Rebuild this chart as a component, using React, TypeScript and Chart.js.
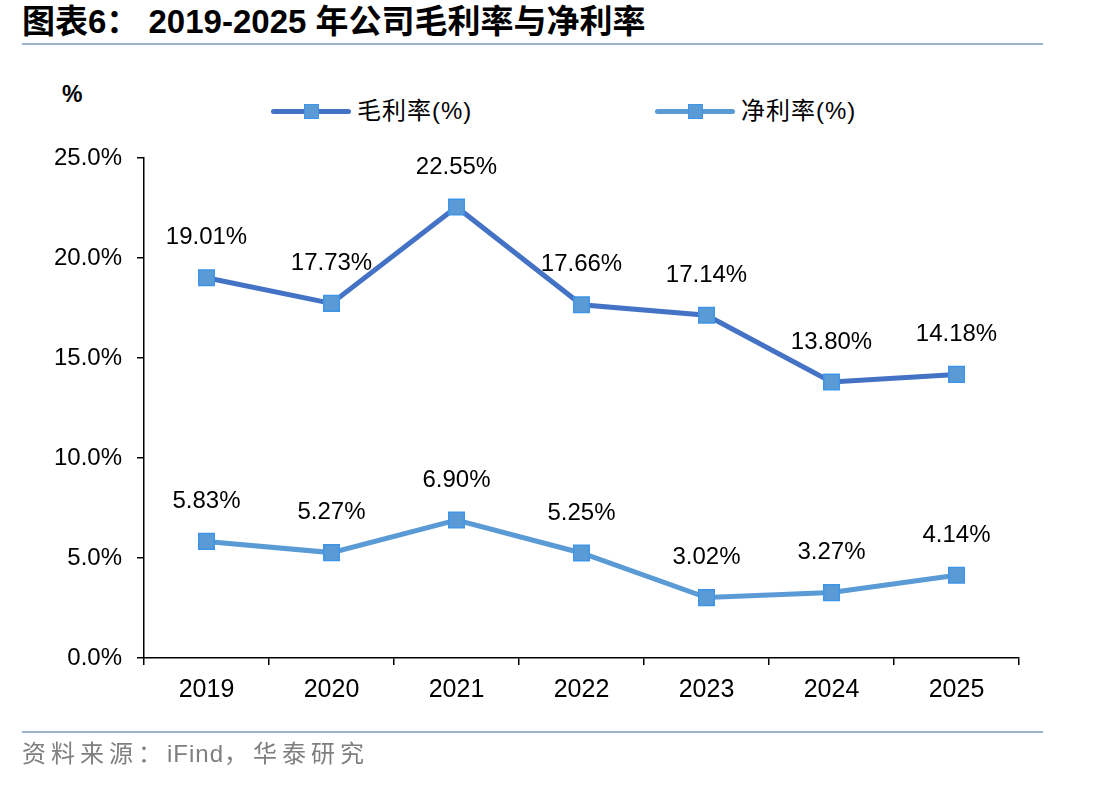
import React, { useEffect, useRef } from "react";
import { Chart, registerables } from "chart.js";

Chart.register(...registerables);

const categories = ["2019", "2020", "2021", "2022", "2023", "2024", "2025"];
const grossMargin = [19.01, 17.73, 22.55, 17.66, 17.14, 13.8, 14.18];
const netMargin = [5.83, 5.27, 6.9, 5.25, 3.02, 3.27, 4.14];
const seriesNames = ["毛利率(%)", "净利率(%)"];
const yTicks = [0, 5, 10, 15, 20, 25];

const FONT = "'Liberation Sans', Arial, sans-serif";
const CJK = "'Liberation Sans', Arial, 'Noto Sans CJK SC', sans-serif";
const C1 = "#4472C4";
const C2 = "#5B9BD5";
const MARKER_FILL = "#5B9BD5";
const MARKER_BORDER = "#3E95E8";

const labelPlugin = {
  id: "valueLabels",
  afterDatasetsDraw(chart: any) {
    const ctx = chart.ctx;
    ctx.save();
    ctx.font = `24px ${FONT}`;
    ctx.fillStyle = "#000";
    ctx.textAlign = "center";
    ctx.textBaseline = "middle";
    chart.data.datasets.forEach((ds: any, i: number) => {
      const meta = chart.getDatasetMeta(i);
      meta.data.forEach((pt: any, j: number) => {
        ctx.fillText(ds.data[j].toFixed(2) + "%", pt.x, pt.y - 40);
      });
    });
    ctx.restore();
  },
};

function LegendItem({ left, color, text }: { left: number; color: string; text: string }) {
  return (
    <div style={{ position: "absolute", left, top: 96, height: 30 }}>
      <div
        style={{
          position: "absolute",
          left: 0,
          top: 13,
          width: 80,
          height: 5,
          borderRadius: 3,
          background: color,
        }}
      />
      <div
        style={{
          position: "absolute",
          left: 33,
          top: 8,
          width: 13,
          height: 13,
          background: MARKER_FILL,
          border: `1.5px solid ${MARKER_BORDER}`,
        }}
      />
      <div
        style={{
          position: "absolute",
          left: 86,
          top: 0,
          whiteSpace: "nowrap",
          font: `24px ${CJK}`,
          letterSpacing: "1px",
          lineHeight: "30px",
          color: "#000",
        }}
      >
        {text}
      </div>
    </div>
  );
}

export default function App() {
  const ref = useRef<HTMLCanvasElement>(null);

  useEffect(() => {
    if (!ref.current) return;
    const chart = new Chart(ref.current, {
      type: "line",
      data: {
        labels: categories,
        datasets: [
          {
            label: seriesNames[0],
            data: grossMargin,
            borderColor: C1,
            borderWidth: 5,
            pointStyle: "rect",
            pointRadius: 11,
            pointBackgroundColor: MARKER_FILL,
            pointBorderColor: MARKER_BORDER,
            pointBorderWidth: 1.5,
            tension: 0,
          },
          {
            label: seriesNames[1],
            data: netMargin,
            borderColor: C2,
            borderWidth: 5,
            pointStyle: "rect",
            pointRadius: 11,
            pointBackgroundColor: MARKER_FILL,
            pointBorderColor: MARKER_BORDER,
            pointBorderWidth: 1.5,
            tension: 0,
          },
        ],
      },
      options: {
        animation: false,
        responsive: false,
        maintainAspectRatio: false,
        layout: { padding: { left: 0, top: 158, right: 82, bottom: 0 } },
        plugins: {
          legend: { display: false },
          title: { display: false },
          tooltip: { enabled: false },
        },
        scales: {
          x: {
            offset: true,
            grid: {
              offset: true,
              drawOnChartArea: false,
              drawTicks: true,
              tickLength: 7,
              color: "#000",
              lineWidth: 1.5,
            },
            border: { color: "#000", width: 1.5 },
            ticks: { color: "#000", font: { size: 25, family: FONT }, padding: 10 },
            afterFit: (s: any) => {
              s.height = 128;
            },
          },
          y: {
            min: 0,
            max: 25,
            afterBuildTicks: (s: any) => {
              s.ticks = yTicks.map((v) => ({ value: v }));
            },
            grid: {
              drawOnChartArea: false,
              drawTicks: true,
              tickLength: 7,
              color: "#000",
              lineWidth: 1.5,
            },
            border: { color: "#000", width: 1.5 },
            ticks: {
              color: "#000",
              font: { size: 24, family: FONT },
              padding: 15,
              callback: (v: any) => Number(v).toFixed(1) + "%",
            },
            afterFit: (s: any) => {
              s.width = 144;
            },
          },
        },
      },
      plugins: [labelPlugin],
    });
    return () => chart.destroy();
  }, []);

  return (
    <div
      style={{
        position: "absolute",
        left: 0,
        top: 0,
        width: 1101,
        height: 786,
        background: "#fff",
        overflow: "hidden",
      }}
    >
      <div
        style={{
          position: "absolute",
          left: 22,
          top: 2,
          font: `bold 33px ${CJK}`,
          lineHeight: "40px",
          color: "#000",
          whiteSpace: "nowrap",
        }}
      >
        图表6：&nbsp;2019-2025 年公司毛利率与净利率
      </div>
      <div
        style={{
          position: "absolute",
          left: 22,
          top: 43,
          width: 1021,
          height: 2,
          background: "#9DB1C9",
        }}
      />
      <div
        style={{
          position: "absolute",
          left: 62,
          top: 81,
          font: `bold 23px ${FONT}`,
          color: "#000",
        }}
      >
        %
      </div>
      <LegendItem left={271} color={C1} text={seriesNames[0]} />
      <LegendItem left={655} color={C2} text={seriesNames[1]} />
      <canvas
        ref={ref}
        width={1101}
        height={786}
        style={{ position: "absolute", left: 0, top: 0, width: 1101, height: 786 }}
      />
      <div
        style={{
          position: "absolute",
          left: 22,
          top: 731,
          width: 1021,
          height: 2,
          background: "#9DB1C9",
        }}
      />
      <div
        style={{
          position: "absolute",
          left: 22,
          top: 737,
          font: `24px ${CJK}`,
          lineHeight: "34px",
          color: "#7F7F7F",
          whiteSpace: "nowrap",
        }}
      >
        <span style={{ letterSpacing: "5px" }}>资料来源：</span>
        <span style={{ letterSpacing: "1px" }}>iFind</span>
        <span style={{ letterSpacing: "5px" }}>，华泰研究</span>
      </div>
    </div>
  );
}
